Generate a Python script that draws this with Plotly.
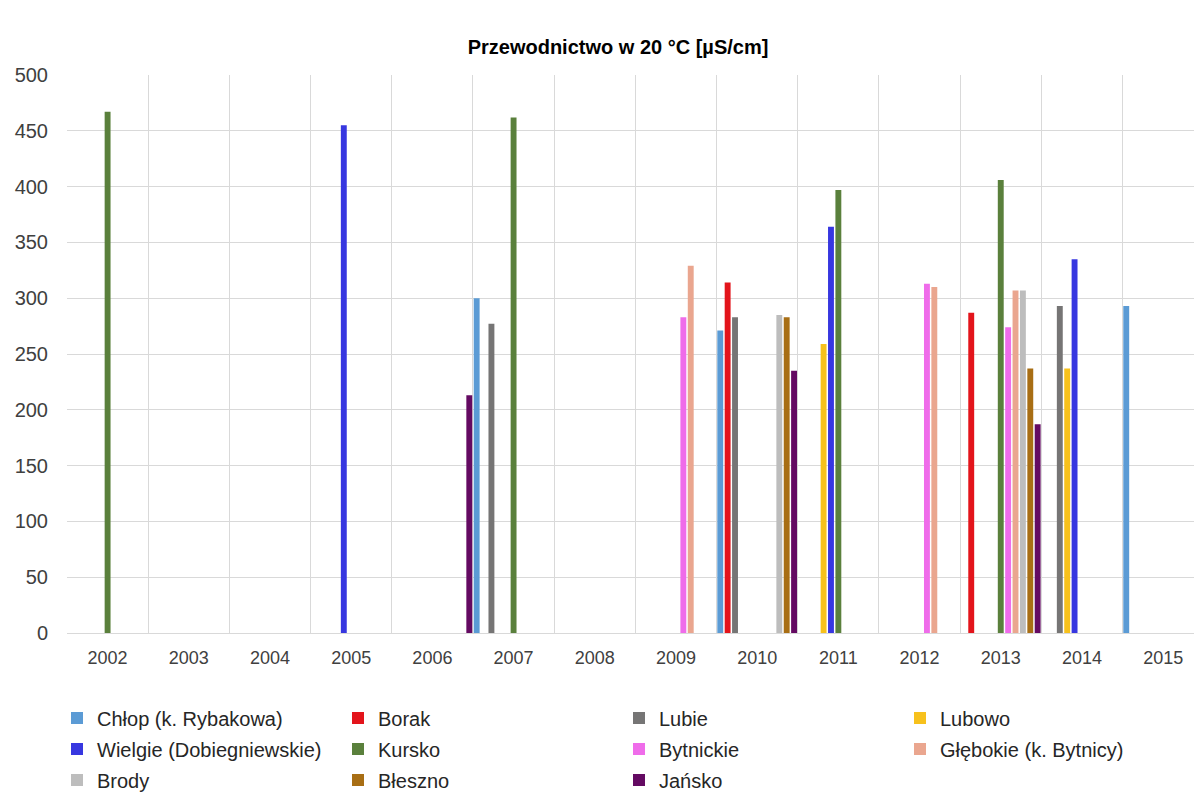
import plotly.graph_objects as go

# Measurement years (categories on the x axis)
years = ["2002", "2003", "2004", "2005", "2006", "2007", "2008",
         "2009", "2010", "2011", "2012", "2013", "2014", "2015"]

# Conductivity at 20 °C [µS/cm] per lake; None = no measurement that year
#                2002 2003 2004 2005 2006 2007 2008 2009 2010 2011 2012 2013 2014 2015
chlop      = [None, None, None, None, None, 300, None, None, 271, None, None, None, None, 293]
borak      = [None, None, None, None, None, None, None, None, 314, None, None, 287, None, None]
lubie      = [None, None, None, None, None, 277, None, None, 283, None, None, None, 293, None]
lubowo     = [None, None, None, None, None, None, None, None, None, 259, None, None, 237, None]
wielgie    = [None, None, None, 455, None, None, None, None, None, 364, None, None, 335, None]
kursko     = [467, None, None, None, None, 462, None, None, None, 397, None, 406, None, None]
bytnickie  = [None, None, None, None, None, None, None, 283, None, None, 313, 274, None, None]
glebokie   = [None, None, None, None, None, None, None, 329, None, None, 310, 307, None, None]
brody      = [None, None, None, None, None, None, None, None, 285, None, None, 307, None, None]
bleszno    = [None, None, None, None, None, None, None, None, 283, None, None, 237, None, None]
jansko     = [None, None, None, None, 213, None, None, None, 235, None, None, 187, None, None]

series = [
    ("Chłop (k. Rybakowa)", chlop, "#5B9BD5", "legend"),
    ("Borak", borak, "#E3141B", "legend"),
    ("Lubie", lubie, "#767575", "legend"),
    ("Lubowo", lubowo, "#F7C11C", "legend"),
    ("Wielgie (Dobiegniewskie)", wielgie, "#3737E0", "legend2"),
    ("Kursko", kursko, "#5A803C", "legend2"),
    ("Bytnickie", bytnickie, "#EF6CEA", "legend2"),
    ("Głębokie (k. Bytnicy)", glebokie, "#EAA68F", "legend2"),
    ("Brody", brody, "#BDBDBD", "legend3"),
    ("Błeszno", bleszno, "#A86E14", "legend3"),
    ("Jańsko", jansko, "#640A62", "legend3"),
]

fig = go.Figure()
for name, vals, color, leg in series:
    fig.add_trace(go.Bar(
        x=years, y=vals, name=name, marker_color=color,
        marker_line_width=0, legend=leg,
    ))

W, H = 1194, 803
font_family = "Liberation Sans, Arial, sans-serif"
tick_color = "#404040"
legend_color = "#262626"
grid_color = "#D9D9D9"

legend_common = dict(
    orientation="h", xref="container", yref="container",
    xanchor="left", yanchor="middle", x=57 / W,
    entrywidth=236, entrywidthmode="pixels",
    font=dict(family=font_family, size=20, color=legend_color),
    bgcolor="rgba(0,0,0,0)", itemclick=False, traceorder="normal",
)

fig.update_layout(
    width=W, height=H,
    margin=dict(l=67, r=0, t=75, b=170),
    paper_bgcolor="white", plot_bgcolor="white",
    barmode="group", bargap=0.0, bargroupgap=0.2,
    title=dict(
        text="<b>Przewodnictwo w 20 °C [µS/cm]</b>",
        x=618 / W, xref="container", xanchor="center",
        y=1 - 47 / H, yref="container", yanchor="middle",
        font=dict(family=font_family, size=20, color="#000000"),
    ),
    xaxis=dict(
        type="category", range=[-0.5, 13.38],
        tickson="boundaries", showgrid=True, gridcolor=grid_color, gridwidth=1,
        ticks="", showline=True, linecolor=grid_color, linewidth=1,
        tickfont=dict(family=font_family, size=18, color=tick_color),
        ticklabelstandoff=8, fixedrange=True,
    ),
    yaxis=dict(
        range=[0, 500], dtick=50, showgrid=True, gridcolor=grid_color, gridwidth=1,
        zeroline=False, showline=False, ticks="",
        tickfont=dict(family=font_family, size=20, color=tick_color),
        ticklabelstandoff=18, fixedrange=True,
    ),
    legend=dict(legend_common, y=1 - 718 / H),
    legend2=dict(legend_common, y=1 - 749 / H),
    legend3=dict(legend_common, y=1 - 780 / H),
)

fig.write_html("out.html")
